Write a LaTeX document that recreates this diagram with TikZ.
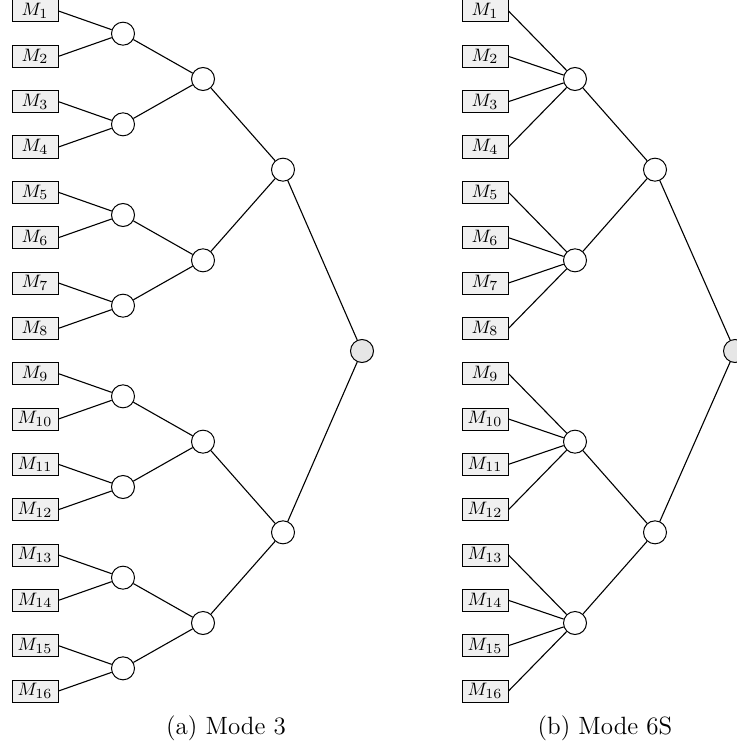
\documentclass[tikz,border=0pt]{standalone}
\definecolor{boxgray}{HTML}{F0F0F0}
\definecolor{rootgray}{HTML}{E6E6E6}
\begin{document}
\begin{tikzpicture}[x=0.5pt,y=-0.5pt,
  mbox/.style={draw, fill=boxgray, line width=0.5pt, minimum width=23pt, minimum height=11pt, inner sep=0pt, font=\fontsize{9.5}{11}\selectfont},
  junc/.style={draw, circle, fill=white, line width=0.5pt, minimum size=11.5pt, inner sep=0pt},
  rootn/.style={junc, fill=rootgray},
  link/.style={line width=0.55pt},
  capt/.style={font=\fontsize{12.5}{15}\selectfont}]
\useasboundingbox (0,0) rectangle (736,749);
% leaves
\foreach \k in {1,...,16} {
  \pgfmathsetmacro\yy{11+45.3333*(\k-1)}
  \node[mbox] (a\k) at (35,\yy) {$M_{\k}$};
  \node[mbox] (b\k) at (485,\yy) {$M_{\k}$};
}
% left level 1
\foreach \i in {1,...,8} {
  \pgfmathsetmacro\yy{33.6667+90.6667*(\i-1)}
  \pgfmathtruncatemacro\ja{2*\i-1}
  \pgfmathtruncatemacro\jb{2*\i}
  \node[junc] (aa\i) at (123,\yy) {};
  \draw[link] (a\ja.east) -- (aa\i);
  \draw[link] (a\jb.east) -- (aa\i);
}
% level 2
\foreach \i in {1,...,4} {
  \pgfmathsetmacro\yy{79+181.3333*(\i-1)}
  \pgfmathtruncatemacro\ja{2*\i-1}
  \pgfmathtruncatemacro\jb{2*\i}
  \node[junc] (ab\i) at (203,\yy) {};
  \draw[link] (aa\ja) -- (ab\i);
  \draw[link] (aa\jb) -- (ab\i);
  \node[junc] (bb\i) at (575,\yy) {};
  \foreach \d in {3,2,1,0} {
    \pgfmathtruncatemacro\jj{4*\i-\d}
    \draw[link] (b\jj.east) -- (bb\i);
  }
}
% level 3
\foreach \i in {1,2} {
  \pgfmathsetmacro\yy{169.6667+362.6667*(\i-1)}
  \pgfmathtruncatemacro\ja{2*\i-1}
  \pgfmathtruncatemacro\jb{2*\i}
  \node[junc] (ac\i) at (283,\yy) {};
  \draw[link] (ab\ja) -- (ac\i);
  \draw[link] (ab\jb) -- (ac\i);
  \node[junc] (bc\i) at (655,\yy) {};
  \draw[link] (bb\ja) -- (bc\i);
  \draw[link] (bb\jb) -- (bc\i);
}
% roots
\node[rootn] (ar) at (362,351) {};
\node[rootn] (br) at (735,351) {};
\draw[link] (ac1) -- (ar);
\draw[link] (ac2) -- (ar);
\draw[link] (bc1) -- (br);
\draw[link] (bc2) -- (br);
% captions
\node[capt] (capa) at (226,728) {(a) Mode 3};
\node[capt] (capb) at (605,728) {(b) Mode 6S};
\end{tikzpicture}
\end{document}
